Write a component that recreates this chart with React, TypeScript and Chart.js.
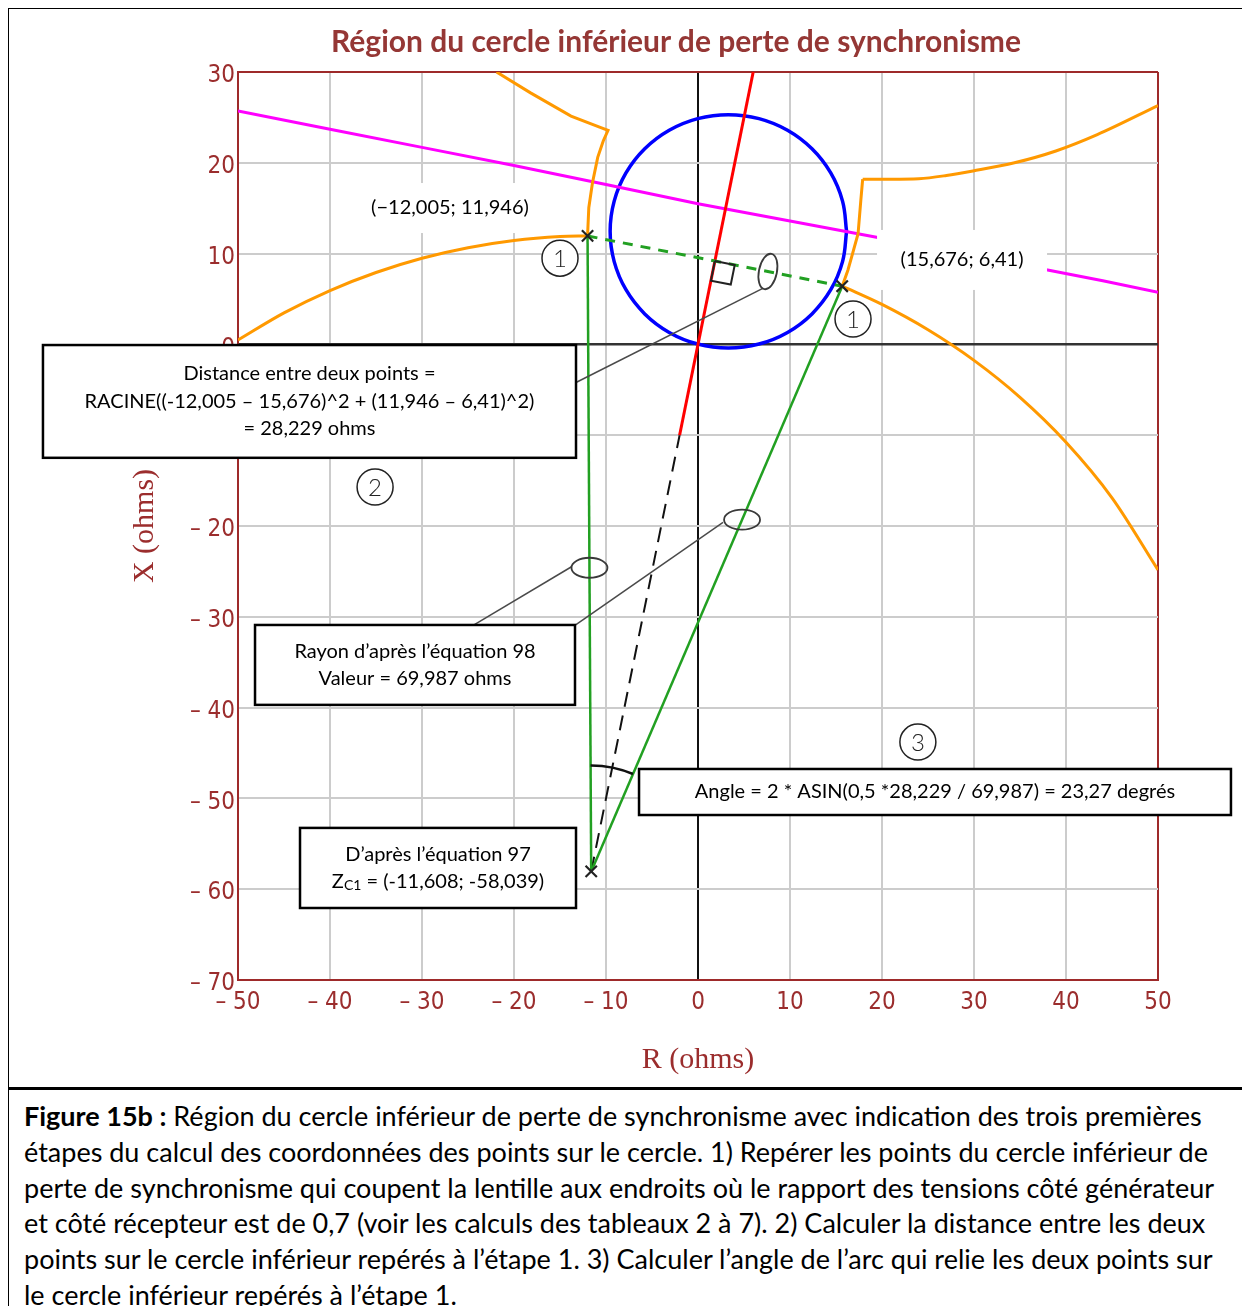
import React, { useEffect, useRef } from 'react';
import { Chart, registerables } from 'chart.js';

Chart.register(...registerables);

// ---------- data (ohms) ----------
const xTicks = [-50, -40, -30, -20, -10, 0, 10, 20, 30, 40, 50];
const yTicks = [-70, -60, -50, -40, -30, -20, -10, 0, 10, 20, 30];

// lower loss-of-synchronism circle, upper arc (left part)
const orangeArcLeftX = [-50, -45, -40, -35, -30, -25, -20, -15, -12.005];
const orangeArcLeftY = [0.48, 3.47, 5.93, 7.92, 9.49, 10.65, 11.44, 11.87, 11.946];
// lens, left piece
const orangeLensLeftX = [-12.005, -11.87, -11.47, -10.9, -10.3, -9.78, -10.7, -13.8, -18.2, -21.9];
const orangeLensLeftY = [11.946, 15.05, 17.8, 20.6, 22.4, 23.57, 23.94, 25.15, 27.7, 30];
// lower circle, upper arc (right part)
const orangeArcRightX = [15.676, 20, 25, 30, 35, 40, 45, 50];
const orangeArcRightY = [6.41, 4.4, 1.61, -1.76, -5.83, -10.77, -16.89, -24.83];
// lens, right piece
const orangeLensRightX = [15.676, 16.3, 16.8, 17.4, 17.7, 17.9];
const orangeLensRightY = [6.41, 8.2, 10.0, 12.2, 15.9, 18.2];
const orangeLensTopX = [17.9, 21, 24, 27, 29.9, 34.4, 38.9, 43.4, 50];
const orangeLensTopY = [18.2, 18.2, 18.25, 18.6, 19.1, 20.0, 21.3, 23.1, 26.3];

const magentaX = [-50, -40, -30, -20, -10, 0, 10, 19.4, 30, 38, 44, 50];
const magentaY = [25.7, 23.7, 21.7, 19.7, 17.6, 15.5, 13.6, 11.8, 9.7, 8.2, 7.0, 5.75];

const blueCircleX = [16.15, 15.71, 14.43, 12.39, 9.73, 6.63, 3.3, -0.03, -3.13, -5.79, -7.83, -9.11, -9.55, -9.11, -7.83, -5.79, -3.13, -0.03, 3.3, 6.63, 9.73, 12.39, 14.43, 15.71, 16.15];
const blueCircleY = [12.45, 15.78, 18.88, 21.54, 23.58, 24.86, 25.3, 24.86, 23.58, 21.54, 18.88, 15.78, 12.45, 9.12, 6.02, 3.36, 1.32, 0.04, -0.4, 0.04, 1.32, 3.36, 6.02, 9.12, 12.45];

const redX = [-2.0, 6.0];
const redY = [-10, 30];

const centerZc1 = [-11.608, -58.039];
const pointA = [-12.005, 11.946];
const pointB = [15.676, 6.41];

const greenLeftX = [centerZc1[0], pointA[0]];
const greenLeftY = [centerZc1[1], pointA[1]];
const greenRightX = [centerZc1[0], pointB[0]];
const greenRightY = [centerZc1[1], pointB[1]];
const chordX = [pointA[0], pointB[0]];
const chordY = [pointA[1], pointB[1]];
const bisectorX = [centerZc1[0], -2.0];
const bisectorY = [centerZc1[1], -10];

const markerX = [pointA[0], pointB[0], centerZc1[0]];
const markerY = [pointA[1], pointB[1], centerZc1[1]];

// right-angle symbol at the chord midpoint
const squareX = [1.836, 3.993, 3.562, 1.405, 1.836];
const squareY = [9.178, 8.747, 6.59, 7.021, 9.178];

// ---------- annotation layout ----------
const annotFont = "Lato, 'Open Sans', sans-serif";
const annotSize = 20;

const boxes = [
  { x1: -71.2, x2: -13.26, y1: -0.07, y2: -12.49, lines: [
    [{ t: 'Distance entre deux points =' }],
    [{ t: 'RACINE((-12,005 – 15,676)^2 + (11,946 – 6,41)^2)' }],
    [{ t: '= 28,229 ohms' }],
  ] },
  { x1: -48.15, x2: -13.37, y1: -30.9, y2: -39.7, lines: [
    [{ t: 'Rayon d’après l’équation 98' }],
    [{ t: 'Valeur = 69,987 ohms' }],
  ] },
  { x1: -6.41, x2: 57.93, y1: -46.76, y2: -51.83, lines: [
    [{ t: 'Angle = 2 * ASIN(0,5 *28,229 / 69,987) = 23,27 degrés' }],
  ] },
  { x1: -43.26, x2: -13.26, y1: -53.25, y2: -62.07, lines: [
    [{ t: 'D’après l’équation 97' }],
    [{ t: 'Z' }, { t: 'C1', sub: true }, { t: ' = (-11,608; -58,039)' }],
  ] },
];

const pointLabels = [
  { x: -26.96, y: 15.02, w: 190, h: 50, text: '(−12,005; 11,946)' },
  { x: 28.7, y: 9.3, w: 170, h: 60, text: '(15,676; 6,41)' },
];

const circledNumbers = [
  { x: -15.0, y: 9.5, n: '1' },
  { x: 16.85, y: 2.8, n: '1' },
  { x: -35.1, y: -15.7, n: '2' },
  { x: 23.9, y: -43.8, n: '3' },
];

const ellipses = [
  { x: 7.6, y: 8.03, rx: 9, ry: 18, rot: 0.2 },
  { x: -11.8, y: -24.6, rx: 18, ry: 10, rot: 0 },
  { x: 4.79, y: -19.3, rx: 18, ry: 10, rot: 0 },
];

const leaders = [
  [-13.37, -4.25, 7.1, 6.2],
  [-24.35, -30.9, -13.7, -24.46],
  [-13.3, -30.9, 2.72, -19.6],
];

const frameColor = '#9e2a2a';
const tickColor = '#9b2d2d';

const fmt = (v: number) => (v < 0 ? '– ' + Math.abs(v) : String(v));

const xy = (xs: number[], ys: number[]) => xs.map((x, i) => ({ x, y: ys[i] }));

const annotationPlugin = {
  id: 'annotations',
  afterDatasetsDraw(chart: any) {
    const { ctx } = chart;
    const sx = chart.scales.x;
    const sy = chart.scales.y;
    const px = (v: number) => sx.getPixelForValue(v);
    const py = (v: number) => sy.getPixelForValue(v);
    ctx.save();

    // leader lines
    ctx.strokeStyle = '#4a4a4a';
    ctx.lineWidth = 1.5;
    leaders.forEach(([a, b, c, d]) => {
      ctx.beginPath();
      ctx.moveTo(px(a), py(b));
      ctx.lineTo(px(c), py(d));
      ctx.stroke();
    });

    // ellipses
    ctx.strokeStyle = '#3a3a3a';
    ctx.lineWidth = 1.8;
    ellipses.forEach((e) => {
      ctx.beginPath();
      ctx.ellipse(px(e.x), py(e.y), e.rx, e.ry, e.rot, 0, Math.PI * 2);
      ctx.stroke();
    });

    // right-angle square
    ctx.strokeStyle = '#222';
    ctx.lineWidth = 2;
    ctx.beginPath();
    squareX.forEach((x, i) => {
      if (i === 0) ctx.moveTo(px(x), py(squareY[i]));
      else ctx.lineTo(px(x), py(squareY[i]));
    });
    ctx.stroke();

    // angle arc at Zc1
    const cx = px(centerZc1[0]);
    const cy = py(centerZc1[1]);
    const a1 = Math.atan2(py(pointA[1]) - cy, px(pointA[0]) - cx);
    const a2 = Math.atan2(py(pointB[1]) - cy, px(pointB[0]) - cx);
    ctx.strokeStyle = '#111';
    ctx.lineWidth = 2.5;
    ctx.beginPath();
    ctx.arc(cx, cy, 106, a1, a2);
    ctx.stroke();

    // circled numbers
    circledNumbers.forEach((c) => {
      const x = px(c.x);
      const y = py(c.y);
      ctx.beginPath();
      ctx.arc(x, y, 18, 0, Math.PI * 2);
      ctx.fillStyle = '#fff';
      ctx.fill();
      ctx.strokeStyle = '#222';
      ctx.lineWidth = 1.5;
      ctx.stroke();
      ctx.fillStyle = '#222';
      ctx.font = `300 24px ${annotFont}`;
      ctx.textAlign = 'center';
      ctx.textBaseline = 'middle';
      ctx.fillText(c.n, x, y + 1);
    });

    // point labels (white background)
    pointLabels.forEach((l) => {
      const x = px(l.x);
      const y = py(l.y);
      ctx.fillStyle = '#fff';
      ctx.fillRect(x - l.w / 2, y - l.h / 2, l.w, l.h);
      ctx.fillStyle = '#000';
      ctx.font = `${annotSize}px ${annotFont}`;
      ctx.textAlign = 'center';
      ctx.textBaseline = 'middle';
      ctx.fillText(l.text, x, y);
    });

    // boxes
    boxes.forEach((b) => {
      const x1 = px(b.x1);
      const x2 = px(b.x2);
      const y1 = py(b.y1);
      const y2 = py(b.y2);
      ctx.fillStyle = '#fff';
      ctx.fillRect(x1, y1, x2 - x1, y2 - y1);
      ctx.strokeStyle = '#000';
      ctx.lineWidth = 2.5;
      ctx.strokeRect(x1, y1, x2 - x1, y2 - y1);
      const lh = 27.5;
      const midY = (y1 + y2) / 2;
      const startY = midY - ((b.lines.length - 1) * lh) / 2;
      ctx.fillStyle = '#000';
      ctx.textBaseline = 'middle';
      ctx.textAlign = 'left';
      b.lines.forEach((segs: any[], i: number) => {
        const fonts = segs.map((s) => `${s.sub ? 14 : annotSize}px ${annotFont}`);
        const widths = segs.map((s, k) => {
          ctx.font = fonts[k];
          return ctx.measureText(s.t).width;
        });
        const total = widths.reduce((p, q) => p + q, 0);
        let x = (x1 + x2) / 2 - total / 2;
        const y = startY + i * lh;
        segs.forEach((s, k) => {
          ctx.font = fonts[k];
          ctx.fillText(s.t, x, s.sub ? y + 4 : y);
          x += widths[k];
        });
      });
    });

    ctx.restore();
  },
};

export default function App() {
  const canvasRef = useRef<HTMLCanvasElement | null>(null);

  useEffect(() => {
    document.body.style.overflow = 'hidden';
    const canvas = canvasRef.current;
    if (!canvas) return;
    const line = (data: any, color: string, width: number, extra: any = {}) => ({
      data,
      showLine: true,
      borderColor: color,
      backgroundColor: color,
      borderWidth: width,
      pointRadius: 0,
      fill: false,
      tension: 0,
      ...extra,
    });
    const tickFont = { family: "'Liberation Sans Narrow', 'DejaVu Sans Condensed', 'Liberation Sans', sans-serif", size: 24 };
    const chart = new Chart(canvas, {
      type: 'scatter',
      data: {
        datasets: [
          {
            data: xy(markerX, markerY),
            showLine: false,
            pointStyle: 'crossRot',
            pointRadius: 8,
            borderColor: '#222',
            borderWidth: 2.2,
            backgroundColor: '#222',
          } as any,
          line(xy(chordX, chordY), '#22a022', 3, { borderDash: [10, 8] }),
          line(xy(greenLeftX, greenLeftY), '#22a022', 2.5),
          line(xy(greenRightX, greenRightY), '#22a022', 2.5),
          line(xy(bisectorX, bisectorY), '#111', 2, { borderDash: [15, 9] }),
          line(xy(redX, redY), '#ff0000', 3),
          line(xy(orangeArcLeftX, orangeArcLeftY), '#ff9900', 3, { cubicInterpolationMode: 'monotone' }),
          line(xy(orangeLensLeftX, orangeLensLeftY), '#ff9900', 3),
          line(xy(orangeArcRightX, orangeArcRightY), '#ff9900', 3, { cubicInterpolationMode: 'monotone' }),
          line(xy(orangeLensRightX, orangeLensRightY), '#ff9900', 3),
          line(xy(orangeLensTopX, orangeLensTopY), '#ff9900', 3, { cubicInterpolationMode: 'monotone' }),
          line(xy(magentaX, magentaY), '#ff00ff', 3),
          line(xy(blueCircleX, blueCircleY), '#0000ff', 3.5, { tension: 0.4 }),
        ],
      },
      options: {
        animation: false,
        responsive: false,
        layout: { padding: { left: 0, right: 92, top: 61, bottom: 0 } },
        plugins: {
          legend: { display: false },
          tooltip: { enabled: false },
          title: { display: false },
        },
        scales: {
          x: {
            type: 'linear',
            position: 'bottom',
            min: -50,
            max: 50,
            afterBuildTicks: (s: any) => {
              s.ticks = xTicks.map((v) => ({ value: v }));
            },
            afterFit: (s: any) => {
              s.height = 105;
            },
            ticks: {
              callback: (v: any) => fmt(Number(v)),
              color: tickColor,
              font: tickFont,
              padding: 8,
              maxRotation: 0,
              autoSkip: false,
            },
            grid: {
              drawTicks: false,
              lineWidth: 2,
              color: (c: any) => (c.tick && c.tick.value === 0 ? '#111' : c.tick && c.tick.value === 50 ? frameColor : '#cccccc'),
            },
            border: { color: frameColor, width: 2 },
            title: {
              display: true,
              text: 'R (ohms)',
              color: tickColor,
              font: { family: "'Liberation Serif', 'DejaVu Serif', serif", size: 30 },
              padding: { top: 0, bottom: 7 },
            },
          },
          y: {
            type: 'linear',
            position: 'left',
            min: -70,
            max: 30,
            afterBuildTicks: (s: any) => {
              s.ticks = yTicks.map((v) => ({ value: v }));
            },
            afterFit: (s: any) => {
              s.width = 227;
            },
            ticks: {
              callback: (v: any) => fmt(Number(v)),
              color: tickColor,
              font: tickFont,
              padding: 3,
              labelOffset: 4,
              autoSkip: false,
            },
            grid: {
              drawTicks: false,
              lineWidth: (c: any) => (c.tick && c.tick.value === 0 ? 2.5 : 2),
              color: (c: any) => (c.tick && c.tick.value === 0 ? '#333' : c.tick && c.tick.value === 30 ? frameColor : '#cccccc'),
            },
            border: { color: frameColor, width: 2 },
            title: {
              display: true,
              text: 'X (ohms)',
              color: tickColor,
              font: { family: "'Liberation Serif', 'DejaVu Serif', serif", size: 30 },
              padding: { top: 116, bottom: 0 },
            },
          },
        },
      } as any,
      plugins: [annotationPlugin],
    });
    return () => chart.destroy();
  }, []);

  const captionFont = "Lato, 'Open Sans', sans-serif";
  const captionLines = [
    <>
      <b>Figure 15b :</b> Région du cercle inférieur de perte de synchronisme avec indication des trois premières
    </>,
    <>étapes du calcul des coordonnées des points sur le cercle. 1) Repérer les points du cercle inférieur de</>,
    <>perte de synchronisme qui coupent la lentille aux endroits où le rapport des tensions côté générateur</>,
    <>et côté récepteur est de 0,7 (voir les calculs des tableaux 2 à 7). 2) Calculer la distance entre les deux</>,
    <>points sur le cercle inférieur repérés à l’étape 1. 3) Calculer l’angle de l’arc qui relie les deux points sur</>,
    <>le cercle inférieur repérés à l’étape 1.</>,
  ];

  return (
    <div style={{ position: 'relative', width: 1242, height: 1298, overflow: 'visible' }}>
      <div style={{ position: 'absolute', left: -2, top: -2, width: 1244, height: 3, background: '#000' }} />
      <div style={{ position: 'absolute', left: -2, top: -2, width: 3, height: 1312, background: '#000' }} />
      <div style={{ position: 'absolute', left: -2, top: 1079, width: 1244, height: 3, background: '#000' }} />
      <canvas
        ref={canvasRef}
        width={1239}
        height={1074}
        style={{ position: 'absolute', left: 3, top: 3, width: 1239, height: 1074 }}
      />
      <div
        style={{
          position: 'absolute',
          left: 168,
          top: 14,
          width: 1000,
          textAlign: 'center',
          fontFamily: "Lato, 'Open Sans', sans-serif",
          fontWeight: 700,
          fontSize: 30,
          lineHeight: '36px',
          color: '#953735',
          whiteSpace: 'nowrap',
        }}
      >
        Région du cercle inférieur de perte de synchronisme
      </div>
      <div
        style={{
          position: 'absolute',
          left: 16,
          top: 1090,
          fontFamily: captionFont,
          fontSize: 27,
          lineHeight: '35.8px',
          color: '#000',
          whiteSpace: 'nowrap',
        }}
      >
        {captionLines.map((l, i) => (
          <div key={i}>{l}</div>
        ))}
      </div>
    </div>
  );
}
